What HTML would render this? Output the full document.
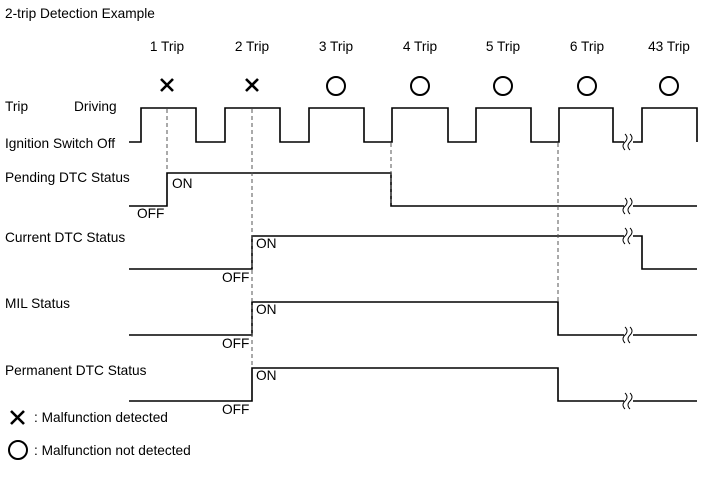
<!DOCTYPE html>
<html><head><meta charset="utf-8"><style>
body{margin:0;background:#fff;}
svg{display:block;font-family:"Liberation Sans",Arial,sans-serif;font-size:13.7px;}
</style></head><body>
<svg width="713" height="481" viewBox="0 0 713 481" xmlns="http://www.w3.org/2000/svg">
<rect width="713" height="481" fill="#fff"/>
<g fill="#000">
<text x="5" y="18">2-trip Detection Example</text>
<text x="167" y="51" text-anchor="middle">1 Trip</text>
<text x="252" y="51" text-anchor="middle">2 Trip</text>
<text x="336" y="51" text-anchor="middle">3 Trip</text>
<text x="420" y="51" text-anchor="middle">4 Trip</text>
<text x="503" y="51" text-anchor="middle">5 Trip</text>
<text x="587" y="51" text-anchor="middle">6 Trip</text>
<text x="669" y="51" text-anchor="middle">43 Trip</text>
<text x="5" y="111">Trip</text>
<text x="74" y="111">Driving</text>
<text x="5" y="148">Ignition Switch Off</text>
<text x="5" y="182">Pending DTC Status</text>
<text x="5" y="242">Current DTC Status</text>
<text x="5" y="308">MIL Status</text>
<text x="5" y="375">Permanent DTC Status</text>
<text x="172" y="188">ON</text>
<text x="137" y="218">OFF</text>
<text x="256" y="248">ON</text>
<text x="222" y="282">OFF</text>
<text x="256" y="314">ON</text>
<text x="222" y="348">OFF</text>
<text x="256" y="380">ON</text>
<text x="222" y="414">OFF</text>
<text x="34" y="422">: Malfunction detected</text>
<text x="34" y="455">: Malfunction not detected</text>
</g>
<g stroke="#000" stroke-width="2.6" fill="none">
<path d="M161 79 L173 91 M173 79 L161 91"/>
<path d="M246 79 L258 91 M258 79 L246 91"/>
<path d="M11 411 L24 424 M24 411 L11 424"/>
</g>
<g stroke="#000" stroke-width="2" fill="none">
<circle cx="336" cy="86" r="9"/>
<circle cx="420" cy="86" r="9"/>
<circle cx="503" cy="86" r="9"/>
<circle cx="587" cy="86" r="9"/>
<circle cx="669" cy="86" r="9"/>
<circle cx="18" cy="450" r="9"/>
</g>
<g stroke="#000" stroke-width="1.6" fill="none">
<path d="M129 142 H141 V108 H196 V142 H225 V108 H280 V142 H309 V108 H364 V142 H392 V108 H448 V142 H476 V108 H531 V142 H559 V108 H613 V142 H624 M633 142 H642 V108 H697 V142"/>
<path d="M129 206 H167 V173 H391 V206 H624 M633 206 H697"/>
<path d="M129 269 H252 V236 H624 M633 236 H642 V269 H697"/>
<path d="M129 335 H252 V302 H558 V335 H624 M633 335 H697"/>
<path d="M129 401 H252 V368 H558 V401 H624 M633 401 H697"/>
</g>
<g stroke="#000" stroke-width="1" fill="none">
<path d="M625 134 q4 4 0 8 q-4 4 0 8 M630 134 q4 4 0 8 q-4 4 0 8"/>
<path d="M625 198 q4 4 0 8 q-4 4 0 8 M630 198 q4 4 0 8 q-4 4 0 8"/>
<path d="M625 228 q4 4 0 8 q-4 4 0 8 M630 228 q4 4 0 8 q-4 4 0 8"/>
<path d="M625 327 q4 4 0 8 q-4 4 0 8 M630 327 q4 4 0 8 q-4 4 0 8"/>
<path d="M625 393 q4 4 0 8 q-4 4 0 8 M630 393 q4 4 0 8 q-4 4 0 8"/>
</g>
<g stroke="#555" stroke-width="1" stroke-dasharray="4,3" fill="none">
<path d="M167 109 V172"/>
<path d="M252 109 V367"/>
<path d="M391 143 V205"/>
<path d="M558 143 V301"/>
</g>
</svg>
</body></html>
